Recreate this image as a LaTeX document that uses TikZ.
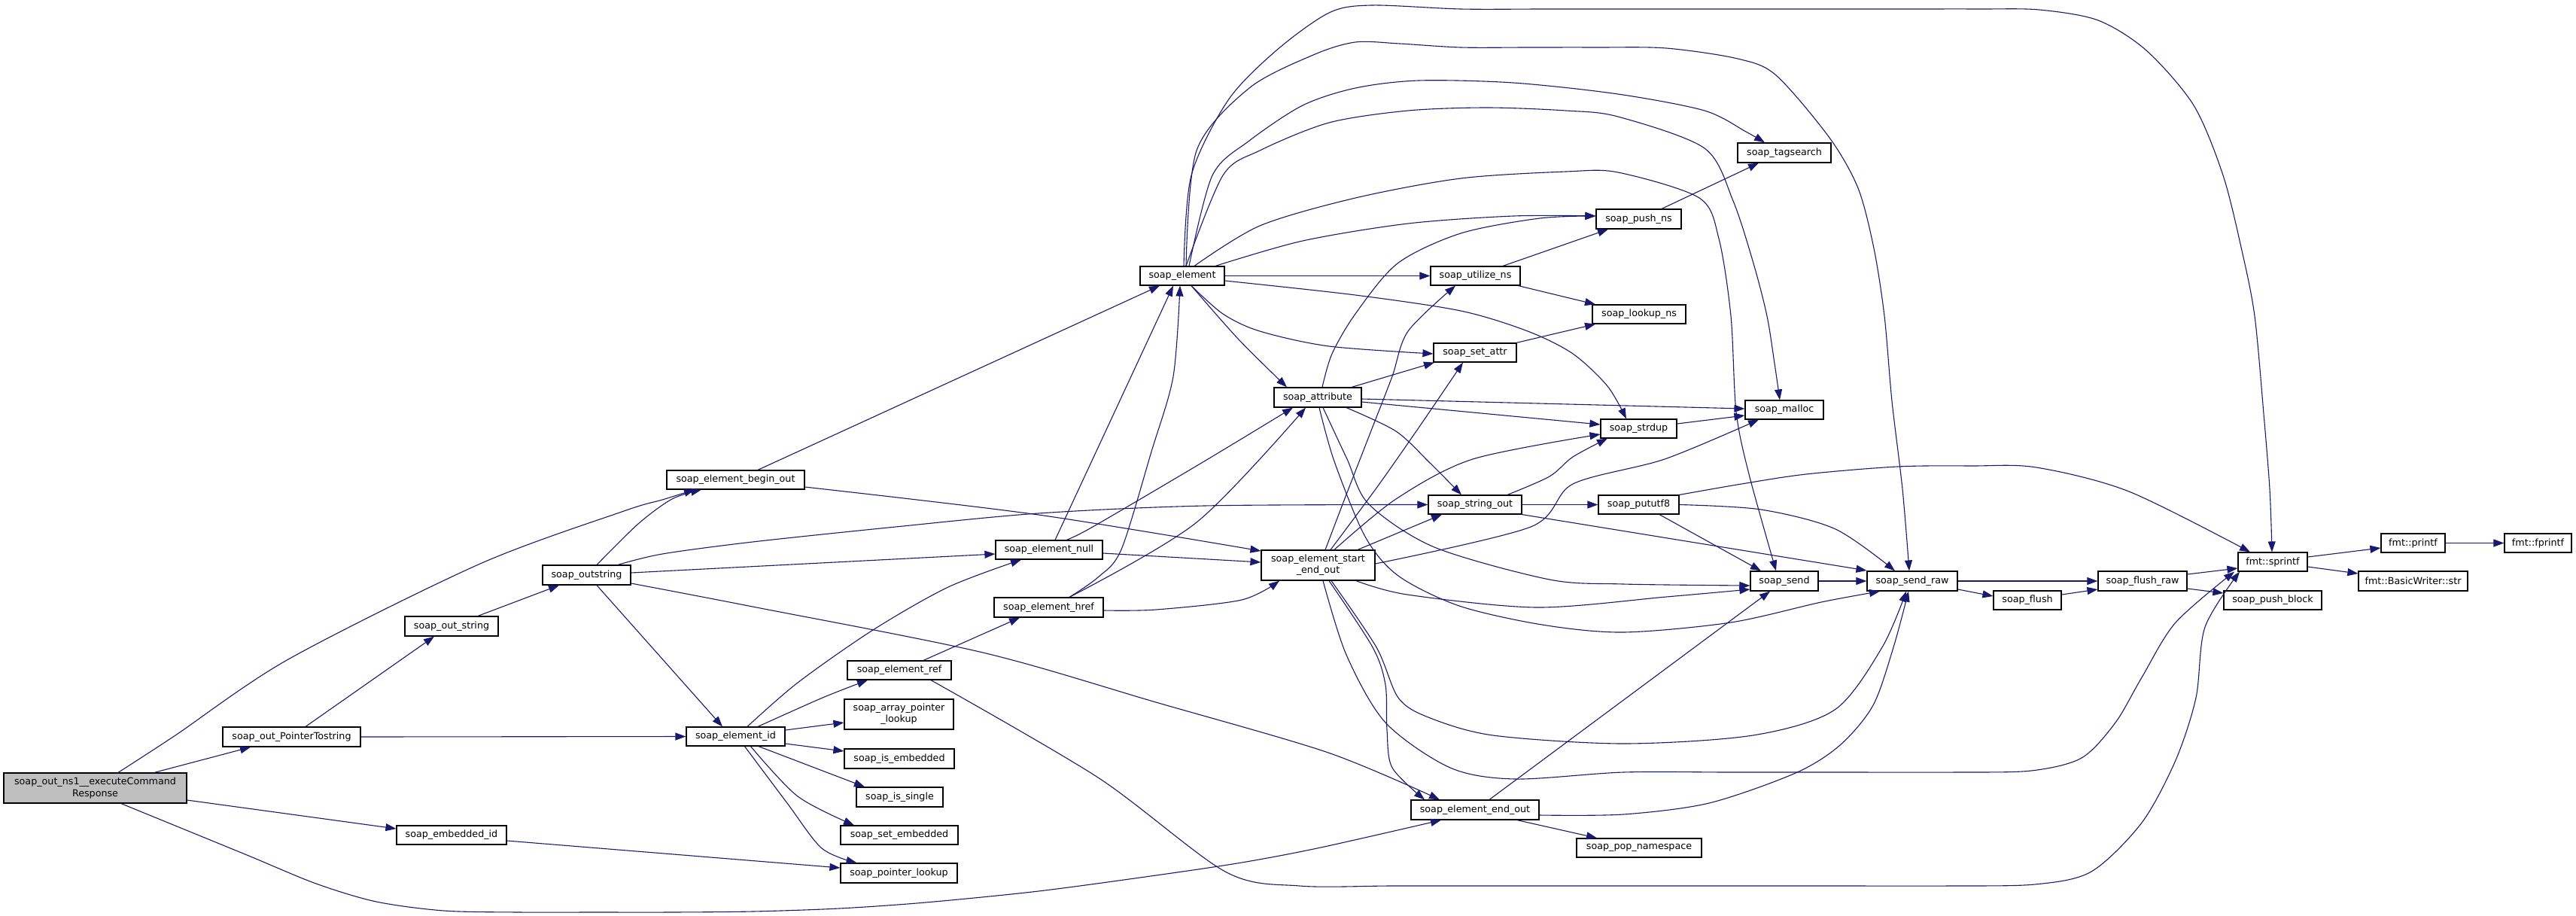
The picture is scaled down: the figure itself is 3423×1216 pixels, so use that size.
\documentclass[tikz,border=0pt]{standalone}
\usepackage{fontspec}
\newfontfamily\dvs{DejaVu Sans}
\usetikzlibrary{arrows.meta}
\definecolor{edgeblue}{HTML}{191970}
\definecolor{rootgray}{HTML}{BFBFBF}
\begin{document}
\begin{tikzpicture}[x=1pt,y=-1pt,
  fn/.style={draw=black, line width=1.2pt, fill=white, inner sep=0pt, align=center,
    font={\dvs\fontsize{12.7}{15.3}\selectfont}},
  call/.style={draw=edgeblue, line width=1.1pt, -{Triangle[length=14pt,width=10pt]}},
  sm/.style={smooth, tension=0.5}]
\useasboundingbox (0,0) rectangle (3423,1216);
\fill[white] (0,0) rectangle (3423,1216);
% nodes
\node[fn, fill=rootgray, minimum width=243, minimum height=40] (root) at (126.5,1047) {soap\_out\_ns1\_\_executeCommand\\Response};
\node[fn, minimum width=183, minimum height=26] (ptrtostr) at (387.5,979) {soap\_out\_PointerTostring};
\node[fn, minimum width=124, minimum height=26] (outstr) at (600,832) {soap\_out\_string};
\node[fn, minimum width=117, minimum height=26] (outstring) at (779.5,764) {soap\_outstring};
\node[fn, minimum width=183, minimum height=25] (beginout) at (977.5,637.5) {soap\_element\_begin\_out};
\node[fn, minimum width=131, minimum height=25] (elemid) at (977.5,978.5) {soap\_element\_id};
\node[fn, minimum width=146, minimum height=25] (embid) at (600,1109.5) {soap\_embedded\_id};
\node[fn, minimum width=142, minimum height=25] (elemnull) at (1394,730.5) {soap\_element\_null};
\node[fn, minimum width=145, minimum height=26] (href) at (1393.5,807) {soap\_element\_href};
\node[fn, minimum width=138, minimum height=25] (ref) at (1195,890.5) {soap\_element\_ref};
\node[fn, minimum width=145, minimum height=40] (arrlookup) at (1194.5,949) {soap\_array\_pointer\\\_lookup};
\node[fn, minimum width=146, minimum height=26] (isemb) at (1195,1008) {soap\_is\_embedded};
\node[fn, minimum width=115, minimum height=26] (issingle) at (1195.5,1059) {soap\_is\_single};
\node[fn, minimum width=156, minimum height=25] (setemb) at (1195,1109.5) {soap\_set\_embedded};
\node[fn, minimum width=155, minimum height=26] (ptrlookup) at (1194.5,1160) {soap\_pointer\_lookup};
\node[fn, minimum width=151, minimum height=40] (startend) at (1751.5,751) {soap\_element\_start\\\_end\_out};
\node[fn, minimum width=170, minimum height=26] (endout) at (1960,1076) {soap\_element\_end\_out};
\node[fn, minimum width=166, minimum height=25] (popns) at (2178,1126.5) {soap\_pop\_namespace};
\node[fn, minimum width=112, minimum height=25] (element) at (1571,366.5) {soap\_element};
\node[fn, minimum width=119, minimum height=25] (utilize) at (1960.5,366.5) {soap\_utilize\_ns};
\node[fn, minimum width=113, minimum height=26] (pushns) at (2177.5,291) {soap\_push\_ns};
\node[fn, minimum width=124, minimum height=26] (tagsearch) at (2371,203) {soap\_tagsearch};
\node[fn, minimum width=124, minimum height=25] (lookupns) at (2178,417.5) {soap\_lookup\_ns};
\node[fn, minimum width=110, minimum height=25] (setattr) at (1960,468.5) {soap\_set\_attr};
\node[fn, minimum width=116, minimum height=26] (attribute) at (1751,528) {soap\_attribute};
\node[fn, minimum width=104, minimum height=25] (malloc) at (2371,544.5) {soap\_malloc};
\node[fn, minimum width=101, minimum height=25] (strdup) at (2177.5,569.5) {soap\_strdup};
\node[fn, minimum width=124, minimum height=25] (stringout) at (1960,670.5) {soap\_string\_out};
\node[fn, minimum width=107, minimum height=25] (pututf8) at (2177.5,670.5) {soap\_pututf8};
\node[fn, minimum width=90, minimum height=26] (send) at (2371,772) {soap\_send};
\node[fn, minimum width=120, minimum height=26] (sendraw) at (2541,772) {soap\_send\_raw};
\node[fn, minimum width=90, minimum height=25] (flush) at (2694,797.5) {soap\_flush};
\node[fn, minimum width=118, minimum height=26] (flushraw) at (2847,772) {soap\_flush\_raw};
\node[fn, minimum width=130, minimum height=25] (pushblock) at (3020,797.5) {soap\_push\_block};
\node[fn, minimum width=92, minimum height=25] (sprintf) at (3020,746.5) {fmt::sprintf};
\node[fn, minimum width=85, minimum height=25] (printf) at (3206.5,721.5) {fmt::printf};
\node[fn, minimum width=89, minimum height=25] (fprintf) at (3372.5,721.5) {fmt::fprintf};
\node[fn, minimum width=145, minimum height=26] (basicwriter) at (3206.5,772) {fmt::BasicWriter::str};
% root edges
\draw[call] plot[sm] coordinates {([xshift=30.5]root.north) (233,977) (383,876) (638,749) (829,679) (880,664) ([xshift=-54.5]beginout.south)};
\draw[call] ([xshift=78.5]root.north) -- ([xshift=-54.5]ptrtostr.south);
\draw[call] ([yshift=-16]root.east) -- ([yshift=8.5]embid.west);
\draw[call] plot[sm] coordinates {([xshift=34.5]root.south) (250,1104) (333,1138) (420,1174) (500,1198) (590,1210) (690,1212) (790,1212) (890,1212) (1000,1211) (1115,1207) (1230,1199) (1380,1184) (1536,1163) (1650,1146) (1755,1126) ([xshift=-45]endout.south)};
% PointerTostring
\draw[call] ([xshift=18.5]ptrtostr.north) -- ([xshift=-23]outstr.south);
\draw[call] (ptrtostr.east) -- (elemid.west);
\draw[call] ([xshift=35]outstr.north) -- ([xshift=-36.5]outstring.south);
% outstring
\draw[call] plot[sm] coordinates {([xshift=13.5]outstring.north) (848,696) (893,663) ([xshift=-45.5]beginout.south)};
\draw[call] plot[sm] coordinates {([xshift=41.5]outstring.north) (880,736) (1000,720) (1190,700) (1380,682) (1600,672) (stringout.west)};
\draw[call] ([yshift=3]outstring.east) -- ([yshift=-5.5]elemnull.west);
\draw[call] plot[sm] coordinates {([yshift=-11]outstring.east) (1000,806) (1306,867) (1536,933) (1765,1000) ([xshift=-47]endout.north)};
\draw[call] ([xshift=13.5]outstring.south) -- ([xshift=-17.5]elemid.north);
\draw[call] ([yshift=-7.5]embid.east) -- ([yshift=7]ptrlookup.west);
% begin_out
\draw[call] ([xshift=29.5]beginout.north) -- ([xshift=-30]element.south);
\draw[call] plot[sm] coordinates {([yshift=-9.5]beginout.east) (1380,684) ([yshift=19]startend.west)};
% element_id
\draw[call] plot[sm] coordinates {([xshift=15.5]elemid.north) (1060,907) (1160,837) (1260,780) ([xshift=-37]elemnull.south)};
\draw[call] plot[sm] coordinates {([xshift=29.5]elemid.north) (1093,927) ([xshift=-42]ref.south)};
\draw[call] ([yshift=8.5]elemid.east) -- ([yshift=-11]arrlookup.west);
\draw[call] ([yshift=-9.5]elemid.east) -- ([yshift=10]isemb.west);
\draw[call] ([xshift=30.5]elemid.south) -- ([xshift=-46.5]issingle.north);
\draw[call] plot[sm] coordinates {([xshift=20]elemid.south) (1060,1058) ([xshift=-60]setemb.north)};
\draw[call] plot[sm] coordinates {([xshift=12]elemid.south) (1046,1067) (1092,1127) ([xshift=-56]ptrlookup.north)};
% element_null
\draw[call] ([xshift=8]elemnull.north) -- ([xshift=-12]element.south);
\draw[call] plot[sm] coordinates {([xshift=23]elemnull.north) (1452,700) (1600,613) ([xshift=-33]attribute.south)};
\draw[call] ([yshift=-4.5]elemnull.east) -- ([yshift=4]startend.west);
% href
\draw[call] plot[sm] coordinates {([xshift=27.5]href.north) (1459,767) (1490,730) (1530,600) (1559,500) ([xshift=-3]element.south)};
\draw[call] plot[sm] coordinates {([xshift=27.5]href.north) (1590,694) ([xshift=-16]attribute.south)};
\draw[call] plot[sm] coordinates {([yshift=-4]href.east) (1536,810) (1650,797) ([xshift=-51.5]startend.south)};
% ref
\draw[call] ([xshift=32]ref.north) -- ([xshift=-38.5]href.south);
\draw[call] plot[sm] coordinates {([xshift=42]ref.south) (1459,1033) (1628,1158) (1727,1177) (1850,1177) (2000,1177) (2150,1177) (2300,1177) (2450,1177) (2590,1177) (2704,1175) (2779,1158) (2846,1093) (2891,1010) (2918,927) (2930,833) ([xshift=-44]sprintf.south)};
% start_end_out
\draw[call] plot[sm] coordinates {([xshift=9.5]startend.north) (1789,657) (1824,567) (1850,500) (1871,440) ([xshift=-26.5]utilize.south)};
\draw[call] plot[sm] coordinates {([xshift=16.5]startend.north) (1830,647) (1886,567) ([xshift=-16]setattr.south)};
\draw[call] ([xshift=52.5]startend.north) -- ([xshift=-44]stringout.south);
\draw[call] plot[sm] coordinates {([xshift=21.5]startend.north) (1855,663) (1957,610) ([yshift=-7.5]strdup.west)};
\draw[call] plot[sm] coordinates {([yshift=2]startend.east) (2034,700) (2090,643) (2212,610) ([xshift=-34]malloc.south)};
\draw[call] plot[sm] coordinates {([xshift=50.5]startend.south) (1870,790) (2042,807) (2214,793) ([yshift=-11]send.west)};
\draw[call] plot[sm] coordinates {([xshift=17.5]startend.south) (1829,860) (1858,927) (1898,953) (1984,977) (2157,988) (2329,977) (2438,943) (2501,860) ([xshift=-8]sendraw.south)};
\draw[call] plot[sm] coordinates {([xshift=6.5]startend.south) (1789,870) (1841,960) (1927,1020) (2013,1035) (2157,1026) (2300,1026) (2450,1026) (2600,1026) (2699,1024) (2766,1007) (2811,960) (2846,900) (2891,827) ([xshift=-51]sprintf.south)};
\draw[call] plot[sm] coordinates {([xshift=14.5]startend.south) (1824,860) (1841,910) (1843,970) (1850,1020) ([xshift=-67]endout.north)};
% attribute
\draw[call] ([xshift=45]attribute.north) -- ([xshift=-54]setattr.south);
\draw[call] plot[sm] coordinates {([xshift=6]attribute.north) (1770,470) (1801,417) (1857,350) (1941,310) (2046,290) ([yshift=4]pushns.west)};
\draw[call] ([yshift=-2]attribute.east) -- ([yshift=1.5]malloc.west);
\draw[call] ([yshift=-6]attribute.east) -- ([yshift=5.5]strdup.west);
\draw[call] plot[sm] coordinates {([xshift=38]attribute.south) (1855,573) (1900,615) ([xshift=-18]stringout.north)};
\draw[call] plot[sm] coordinates {([xshift=7]attribute.south) (1790,610) (1819,670) (1906,727) (2059,770) (2157,776) ([yshift=-6]send.west)};
\draw[call] plot[sm] coordinates {([xshift=2]attribute.south) (1773,613) (1814,713) (1858,765) (1939,805) (2049,830) (2157,840) (2300,827) (2420,800) ([xshift=-43]sendraw.south)};
% utilize, set_attr, push_ns
\draw[call] ([xshift=36.5]utilize.north) -- ([xshift=-40.5]pushns.south);
\draw[call] ([xshift=57]utilize.south) -- ([xshift=-58]lookupns.north);
\draw[call] ([xshift=55]setattr.north) -- ([xshift=-58]lookupns.south);
\draw[call] ([xshift=30.5]pushns.north) -- ([xshift=-34]tagsearch.south);
% soap_element
\draw[call] plot[sm] coordinates {([xshift=2]element.north) (1583,233) (1632,133) (1696,67) (1766,17) (1822,7) (1941,12) (2050,12) (2170,12) (2290,12) (2410,12) (2530,12) (2630,12) (2710,13) (2788,27) (2852,67) (2915,140) (2954,233) (2979,333) (2996,420) (3008,550) (3016,650) ([xshift=-1]sprintf.north)};
\draw[call] plot[sm] coordinates {([xshift=5]element.north) (1590,200) (1660,117) (1745,73) (1801,56) (1860,58) (1941,63) (2030,63) (2120,63) (2214,64) (2309,78) (2360,100) (2431,183) (2469,250) (2490,330) (2504,420) (2514,533) (2528,650) ([xshift=-4]sendraw.north)};
\draw[call] plot[sm] coordinates {([xshift=9]element.north) (1611,233) (1660,187) (1731,140) (1801,117) (1885,107) (2011,110) (2150,125) (2265,147) (2320,175) ([xshift=-26]tagsearch.north)};
\draw[call] plot[sm] coordinates {([xshift=5]element.north) (1625,233) (1674,200) (1766,163) (1871,147) (1976,143) (2081,147) (2150,155) (2265,197) (2303,267) (2330,350) (2348,420) (2358,483) ([xshift=-6]malloc.north)};
\draw[call] plot[sm] coordinates {([xshift=16]element.north) (1674,300) (1801,263) (1941,237) (2081,228) (2150,229) (2258,263) (2284,317) (2300,420) (2307,547) (2324,630) ([xshift=-11]send.north)};
\draw[call] plot[sm] coordinates {([xshift=44]element.north) (1731,320) (1871,297) (2011,287) ([yshift=4]pushns.west)};
\draw[call] (element.east) -- (utilize.west);
\draw[call] plot[sm] coordinates {([xshift=12]element.south) (1625,417) (1674,440) (1766,460) ([yshift=-1.5]setattr.west)};
\draw[call] plot[sm] coordinates {([yshift=-6.5]element.east) (1801,392) (1941,413) (2030,440) (2090,470) (2136,513) ([xshift=-16.5]strdup.north)};
\draw[call] plot[sm] coordinates {([xshift=12]element.south) (1645,450) ([xshift=-41]attribute.north)};
% string_out, pututf8, strdup
\draw[call] plot[sm] coordinates {([xshift=43]stringout.north) (2059,633) (2090,607) ([xshift=-41.5]strdup.south)};
\draw[call] (stringout.east) -- (pututf8.west);
\draw[call] (stringout.south east) -- ([yshift=14]sendraw.west);
\draw[call] ([xshift=27.5]pututf8.south) -- ([xshift=-31]send.north);
\draw[call] plot[sm] coordinates {(pututf8.east) (2340,677) (2439,703) ([xshift=-23]sendraw.north)};
\draw[call] plot[sm] coordinates {(pututf8.north east) (2314,643) (2400,630) (2521,620) (2620,619) (2706,621) (2829,653) ([xshift=-30]sprintf.north)};
\draw[call] ([yshift=6.5]strdup.east) -- ([yshift=-7.5]malloc.west);
% send chain
\draw[call] (send.east) -- (sendraw.west);
\draw[call] (sendraw.east) -- (flushraw.west);
\draw[call] ([yshift=-11]sendraw.east) -- ([yshift=5.5]flush.west);
\draw[call] ([yshift=7.5]flush.east) -- ([yshift=-11]flushraw.west);
\draw[call] ([yshift=9]flushraw.east) -- ([yshift=-8.5]sprintf.west);
\draw[call] ([yshift=-10]flushraw.east) -- ([yshift=9.5]pushblock.west);
\draw[call] ([yshift=6.5]sprintf.east) -- ([yshift=-6.5]printf.west);
\draw[call] ([yshift=-6.5]sprintf.east) -- ([yshift=10]basicwriter.west);
\draw[call] (printf.east) -- (fprintf.west);
% end_out
\draw[call] ([xshift=19]endout.north) -- ([xshift=-19]send.south);
\draw[call] plot[sm] coordinates {([yshift=-7]endout.east) (2157,1082) (2271,1067) (2386,1027) (2445,990) (2489,937) (2516,860) ([xshift=-5]sendraw.south)};
\draw[call] ([xshift=56]endout.south) -- ([xshift=-56]popns.north);
\end{tikzpicture}
\end{document}
